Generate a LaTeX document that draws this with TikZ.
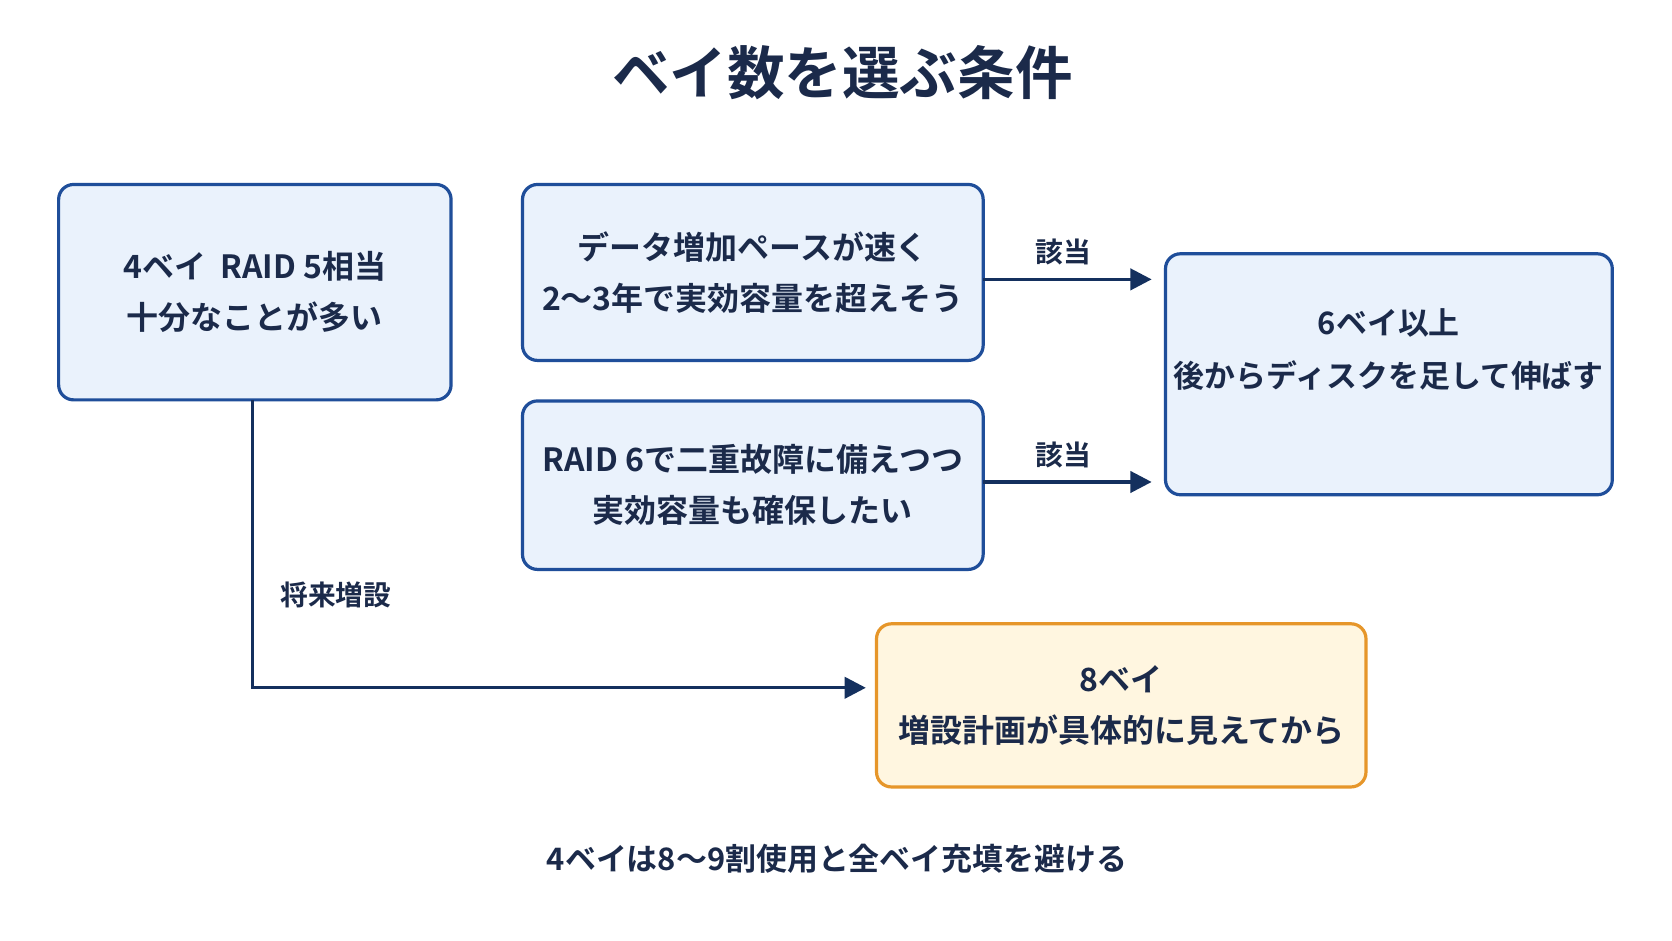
\documentclass[tikz,border=0pt]{standalone}
\usepackage{fontspec}
\setmainfont{Noto Sans CJK JP}[BoldFont={Noto Sans CJK JP Bold}]
\usetikzlibrary{arrows.meta}
\definecolor{navy}{HTML}{1B2A4A}
\definecolor{bborder}{HTML}{1F4E9A}
\definecolor{bfill}{HTML}{EAF2FC}
\definecolor{oborder}{HTML}{E6962A}
\definecolor{ofill}{HTML}{FFF6E0}
\definecolor{arr}{HTML}{14305E}
\tikzset{
 box/.style={draw=bborder,fill=bfill,line width=1.5pt,rounded corners=7pt,align=center,text=navy,font=\fontsize{15}{24}\selectfont\bfseries,inner sep=0pt},
 obox/.style={box,draw=oborder,fill=ofill},
 lbl/.style={text=navy,font=\fontsize{13}{16}\selectfont\bfseries},
 conn/.style={draw=arr,line width=1.6pt,-{Triangle[length=10pt,width=10pt]}}
}
\begin{document}
\begin{tikzpicture}[x=0.5pt,y=-0.5pt]
\fill[white] (0,0) rectangle (1568,882);
\useasboundingbox (0,0) rectangle (1568,882);
\node[text=navy,font=\fontsize{27}{30}\selectfont\bfseries] (title) at (790,68) {ベイ数を選ぶ条件};
\node[box,minimum width=184pt,minimum height=101pt] (A) at (239,274) {4ベイ\ \ RAID 5相当\\十分なことが多い};
\node[box,minimum width=216pt,minimum height=82.5pt] (B) at (706,255.5) {データ増加ペースが速く\\2〜3年で実効容量を超えそう};
\node[box,minimum width=216pt,minimum height=79pt] (C) at (706,455) {RAID 6で二重故障に備えつつ\\実効容量も確保したい};
\node[box,minimum width=209.5pt,minimum height=113pt] (D) at (1302.5,351) {};
\node[align=center,text=navy,font=\fontsize{14.5}{25}\selectfont\bfseries] (Dt) at (1302.5,328) {6ベイ以上\\後からディスクを足して伸ばす};
\node[obox,minimum width=229.5pt,minimum height=76.5pt] (E) at (1051.5,661.5) {8ベイ\\増設計画が具体的に見えてから};
\coordinate (b1) at (922,262); \coordinate (b2) at (1080,262);
\coordinate (c1) at (922,452); \coordinate (c2) at (1080,452);
\draw[conn] (b1) -- (b2);
\draw[conn] (c1) -- (c2);
\node[lbl] (l1) at (997,236) {該当};
\node[lbl] (l2) at (997,427) {該当};
\coordinate (a1) at (237,375); \coordinate (e1) at (812,645);
\draw[conn] (a1) |- (e1);
\node[lbl] (l3) at (315,558) {将来増設};
\node[text=navy,font=\fontsize{14.5}{16}\selectfont\bfseries] (note) at (785,805) {4ベイは8〜9割使用と全ベイ充填を避ける};
\end{tikzpicture}
\end{document}
